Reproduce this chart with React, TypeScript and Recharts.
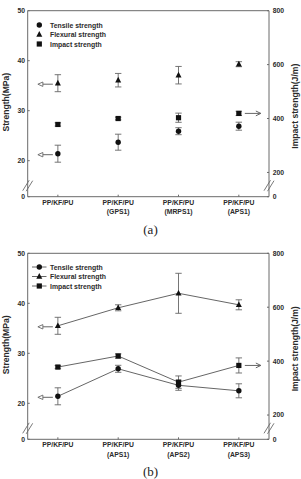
import React from 'react';
import {
  ComposedChart,
  Line,
  XAxis,
  YAxis,
  ErrorBar,
  ReferenceDot,
  ReferenceLine,
  Legend,
  Label,
} from 'recharts';

// ---- data -------------------------------------------------------------
const categoriesA = ['PP/KF/PU', 'PP/KF/PU\n(GPS1)', 'PP/KF/PU\n(MRPS1)', 'PP/KF/PU\n(APS1)'];
const tensileA = [21.4, 23.7, 25.9, 26.9];
const tensileErrA = [1.7, 1.6, 0.7, 0.8];
const flexuralA = [35.5, 36.1, 37.1, 39.3];
const flexuralErrA = [1.7, 1.35, 1.75, 0.5];
const impactA = [378, 400, 403, 419];
const impactErrA = [6, 5, 17, 8];

const categoriesB = ['PP/KF/PU', 'PP/KF/PU\n(APS1)', 'PP/KF/PU\n(APS2)', 'PP/KF/PU\n(APS3)'];
const tensileB = [21.4, 26.9, 23.6, 22.5];
const tensileErrB = [1.7, 0.7, 1.0, 1.4];
const flexuralB = [35.5, 39.1, 42.0, 39.7];
const flexuralErrB = [1.7, 0.6, 4.0, 1.0];
const impactB = [378, 419, 322, 384];
const impactErrB = [6, 8, 23, 28];

// broken axes: the lowest tick stands for 0
const leftTicks = [12.8, 20, 30, 40, 50];
const rightTicks = [110, 200, 400, 600, 800];
const leftBreak = 15;

// ---- style ------------------------------------------------------------
const AXIS = '#6a6a6a';
const INK = '#2b2b2b';
const MARK = '#111';
const LINE = '#666';
const FONT = '"Liberation Sans", Arial, sans-serif';

type Row = {
  cat: string;
  tensile: number;
  tensileErr: number;
  flexural: number;
  flexuralErr: number;
  impact: number;
  impactErr: number;
};

const buildRows = (
  cats: string[],
  t: number[],
  te: number[],
  f: number[],
  fe: number[],
  im: number[],
  ie: number[]
): Row[] =>
  cats.map((c, k) => ({
    cat: c,
    tensile: t[k],
    tensileErr: te[k],
    flexural: f[k],
    flexuralErr: fe[k],
    impact: im[k],
    impactErr: ie[k],
  }));

const rowsA = buildRows(categoriesA, tensileA, tensileErrA, flexuralA, flexuralErrA, impactA, impactErrA);
const rowsB = buildRows(categoriesB, tensileB, tensileErrB, flexuralB, flexuralErrB, impactB, impactErrB);

// ---- markers ----------------------------------------------------------
const Circle = ({ cx, cy }: { cx: number; cy: number }) => <circle cx={cx} cy={cy} r={2.7} fill={MARK} />;
const Triangle = ({ cx, cy }: { cx: number; cy: number }) => (
  <polygon points={`${cx},${cy - 3.4} ${cx - 3},${cy + 2.2} ${cx + 3},${cy + 2.2}`} fill={MARK} />
);
const Square = ({ cx, cy }: { cx: number; cy: number }) => (
  <rect x={cx - 2.6} y={cy - 2.6} width={5.2} height={5.2} fill={MARK} />
);

const markerFor: Record<string, (p: { cx: number; cy: number }) => React.ReactElement> = {
  tensile: Circle,
  flexural: Triangle,
  impact: Square,
};

const dotFn = (key: string) => (p: any) => {
  const M = markerFor[key];
  if (p.cx == null || p.cy == null) return <g key={`${key}-${p.index}`} />;
  return (
    <g key={`${key}-${p.index}`}>
      <M cx={p.cx} cy={p.cy} />
    </g>
  );
};

// ---- ticks, titles, annotations --------------------------------------
const CategoryTick = (props: any) => {
  const { x, y, payload } = props;
  const lines = String(payload.value).split('\n');
  return (
    <text x={x} y={y} textAnchor="middle" fill={INK} fontSize={6.8} fontWeight="bold" fontFamily={FONT}>
      {lines.map((l, i) => (
        <tspan key={i} x={x} dy={i === 0 ? 8 : 9.5}>
          {l}
        </tspan>
      ))}
    </text>
  );
};

const axisTitle = (text: string, dx: number, dy: number) => (props: any) => {
  const vb = props.viewBox || {};
  const cx = vb.x + dx;
  const cy = vb.y + vb.height / 2 + dy;
  return (
    <text
      x={cx}
      y={cy}
      transform={`rotate(-90 ${cx} ${cy})`}
      textAnchor="middle"
      dominantBaseline="central"
      fill={INK}
      fontSize={8.6}
      fontWeight="bold"
      fontFamily={FONT}
    >
      {text}
    </text>
  );
};

const leftArrow = (p: any) => {
  const y = p.cy + 1;
  const tip = p.cx - 20;
  const tail = p.cx - 5;
  return (
    <g>
      <line x1={tip + 5} y1={y} x2={tail} y2={y} stroke={LINE} strokeWidth={1} />
      <polygon points={`${tip},${y} ${tip + 5},${y - 2.2} ${tip + 5},${y + 2.2}`} fill="#fff" stroke={LINE} strokeWidth={0.9} />
    </g>
  );
};

const rightArrow = (p: any) => {
  const y = p.cy;
  const tail = p.cx + 6;
  const tip = p.cx + 22;
  return (
    <g>
      <line x1={tail} y1={y} x2={tip} y2={y} stroke={LINE} strokeWidth={1} />
      <polyline points={`${tip - 5},${y - 2.4} ${tip},${y} ${tip - 5},${y + 2.4}`} fill="none" stroke={LINE} strokeWidth={1} />
    </g>
  );
};

const breakMarks = (p: any) => {
  const y = p.y1;
  const slashes = (x: number) => (
    <g key={x}>
      <polygon points={`${x - 4.5},${y + 5} ${x + 1.5},${y - 5.5} ${x + 4.5},${y - 5} ${x - 1.5},${y + 5.5}`} fill="#fff" />
      <line x1={x - 5} x2={x + 1.5} y1={y + 5} y2={y - 5.5} stroke={AXIS} strokeWidth={0.9} />
      <line x1={x - 1.5} x2={x + 5} y1={y + 5.5} y2={y - 5} stroke={AXIS} strokeWidth={0.9} />
    </g>
  );
  return <g>{[slashes(p.x1), slashes(p.x2)]}</g>;
};

// ---- legend -----------------------------------------------------------
const legendItems = [
  { key: 'tensile', name: 'Tensile strength' },
  { key: 'flexural', name: 'Flexural strength' },
  { key: 'impact', name: 'Impact strength' },
];

const legendContent = (withLines: boolean) => () => (
  <svg width={90} height={30}>
    {legendItems.map((it, i) => {
      const y = 5 + i * 9.5;
      const M = markerFor[it.key];
      return (
        <g key={it.key}>
          {withLines && <line x1={2} x2={16.5} y1={y} y2={y} stroke={LINE} strokeWidth={1} />}
          <M cx={9.3} cy={y} />
          <text x={20} y={y} dominantBaseline="central" fill={INK} fontSize={6.9} fontWeight="bold" fontFamily={FONT}>
            {it.name}
          </text>
        </g>
      );
    })}
  </svg>
);

// ---- one panel --------------------------------------------------------
type PanelProps = {
  rows: Row[];
  height: number;
  top: number;
  xAxisHeight: number;
  connect: boolean;
  rightArrowIndex: number;
  legendTop: number;
};

const Panel = ({ rows, height, top, xAxisHeight, connect, rightArrowIndex, legendTop }: PanelProps) => {
  const lineStroke = connect ? LINE : 'none';
  const errProps = { width: 3.2, stroke: LINE, strokeWidth: 0.9 };
  return (
    <ComposedChart width={301} height={height} data={rows} margin={{ top, right: 0, bottom: 0, left: 0 }}>
      <XAxis
        dataKey="cat"
        type="category"
        scale="band"
        height={xAxisHeight}
        interval={0}
        tickSize={-2}
        tickMargin={2}
        tick={<CategoryTick />}
        axisLine={{ stroke: AXIS, strokeWidth: 1 }}
        tickLine={{ stroke: AXIS }}
      />
      <YAxis
        yAxisId="left"
        width={27.7}
        domain={[leftTicks[0], leftTicks[leftTicks.length - 1]]}
        ticks={leftTicks}
        allowDataOverflow
        tickFormatter={(v: number) => (v === leftTicks[0] ? '0' : String(v))}
        tickSize={-2}
        tickMargin={4.7}
        tick={{ fill: INK, fontSize: 6.8, fontWeight: 'bold', fontFamily: FONT }}
        axisLine={{ stroke: AXIS, strokeWidth: 1 }}
        tickLine={{ stroke: AXIS }}
      >
        <Label content={axisTitle('Strength(MPa)', 6, -1.5)} />
      </YAxis>
      <YAxis
        yAxisId="right"
        orientation="right"
        width={32}
        domain={[rightTicks[0], rightTicks[rightTicks.length - 1]]}
        ticks={rightTicks}
        allowDataOverflow
        tickFormatter={(v: number) => (v === rightTicks[0] ? '0' : String(v))}
        tickSize={-2}
        tickMargin={5.7}
        tick={{ fill: INK, fontSize: 6.8, fontWeight: 'bold', fontFamily: FONT }}
        axisLine={{ stroke: AXIS, strokeWidth: 1 }}
        tickLine={{ stroke: AXIS }}
      >
        <Label content={axisTitle('Impact strength(J/m)', 26, 2.5)} />
      </YAxis>

      <ReferenceLine yAxisId="left" y={leftTicks[leftTicks.length - 1]} stroke={AXIS} strokeWidth={1} />
      <ReferenceLine yAxisId="left" y={leftBreak} stroke="none" shape={breakMarks} />

      <Line
        yAxisId="left"
        dataKey="flexural"
        name="Flexural strength"
        stroke={lineStroke}
        strokeWidth={1}
        dot={dotFn('flexural')}
        activeDot={false}
        isAnimationActive={false}
      >
        <ErrorBar dataKey="flexuralErr" direction="y" {...errProps} />
      </Line>
      <Line
        yAxisId="right"
        dataKey="impact"
        name="Impact strength"
        stroke={lineStroke}
        strokeWidth={1}
        dot={dotFn('impact')}
        activeDot={false}
        isAnimationActive={false}
      >
        <ErrorBar dataKey="impactErr" direction="y" {...errProps} />
      </Line>
      <Line
        yAxisId="left"
        dataKey="tensile"
        name="Tensile strength"
        stroke={lineStroke}
        strokeWidth={1}
        dot={dotFn('tensile')}
        activeDot={false}
        isAnimationActive={false}
      >
        <ErrorBar dataKey="tensileErr" direction="y" {...errProps} />
      </Line>

      <ReferenceDot yAxisId="left" x={rows[0].cat} y={rows[0].flexural} shape={leftArrow} />
      <ReferenceDot yAxisId="left" x={rows[0].cat} y={rows[0].tensile} shape={leftArrow} />
      <ReferenceDot
        yAxisId="right"
        x={rows[rightArrowIndex].cat}
        y={rows[rightArrowIndex].impact}
        shape={rightArrow}
      />

      <Legend
        layout="vertical"
        align="center"
        verticalAlign="middle"
        wrapperStyle={{ position: 'absolute', left: 30, top: legendTop, width: 90, height: 30 }}
        content={legendContent(connect)}
      />
    </ComposedChart>
  );
};

const captionStyle: React.CSSProperties = {
  position: 'absolute',
  left: 0,
  width: 301,
  textAlign: 'center',
  fontFamily: '"Liberation Serif", "Times New Roman", serif',
  fontSize: 13,
  color: '#222',
  lineHeight: '13px',
};

export default function App() {
  return (
    <div style={{ position: 'absolute', left: 0, top: 0, width: 301, height: 479, background: '#fff', overflow: 'hidden' }}>
      <div style={{ position: 'absolute', left: 0, top: 0 }}>
        <Panel rows={rowsA} height={240} top={10.7} xAxisHeight={43.3} connect={false} rightArrowIndex={3} legendTop={20} />
      </div>
      <div style={{ ...captionStyle, top: 223 }}>(a)</div>
      <div style={{ position: 'absolute', left: 0, top: 240 }}>
        <Panel rows={rowsB} height={239} top={13.3} xAxisHeight={39.7} connect={true} rightArrowIndex={3} legendTop={21.5} />
      </div>
      <div style={{ ...captionStyle, top: 465 }}>(b)</div>
    </div>
  );
}
